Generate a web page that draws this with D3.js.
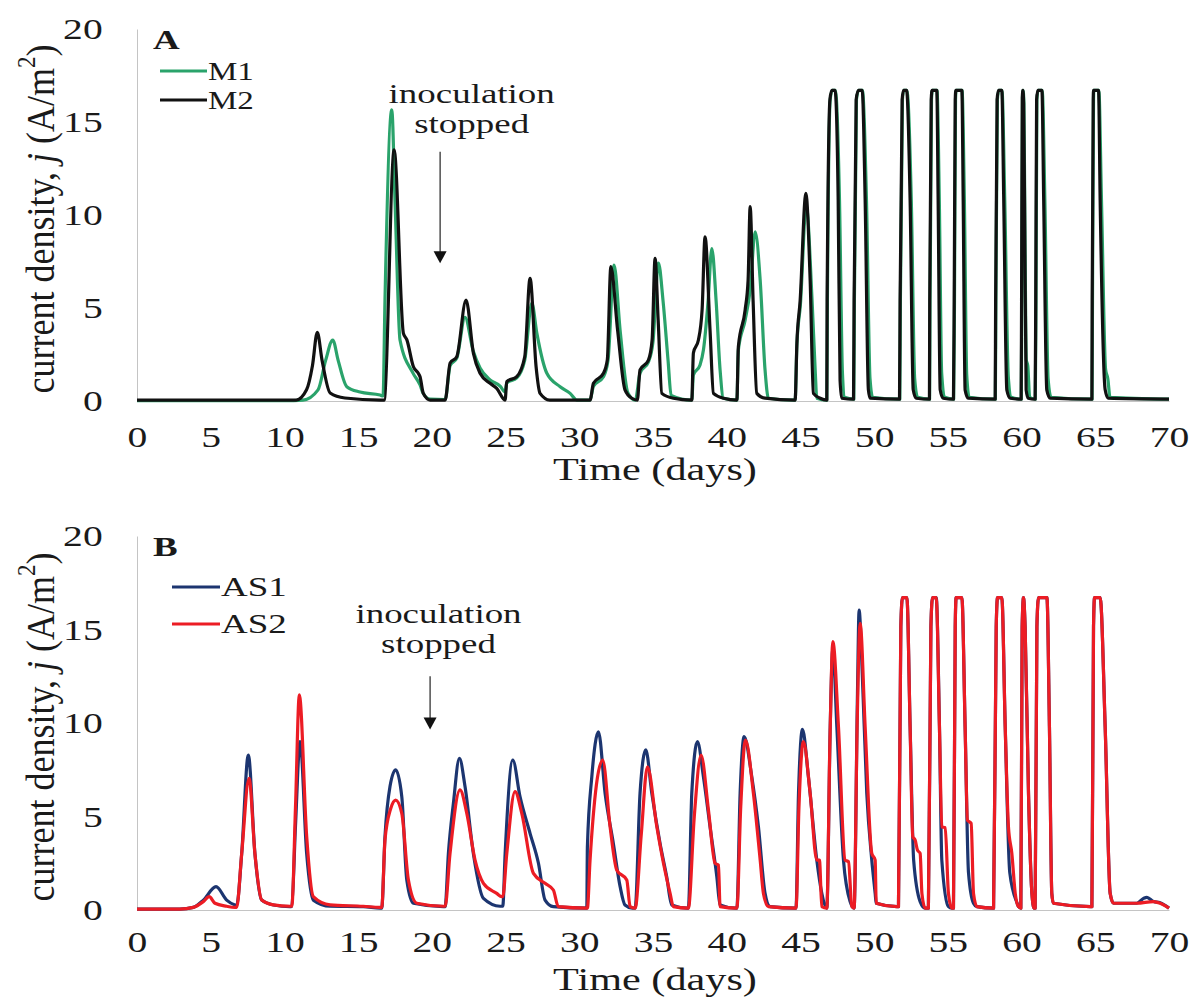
<!DOCTYPE html>
<html>
<head>
<meta charset="utf-8">
<script src="https://d3js.org/d3.v7.min.js"></script>
<style>
  body { margin: 0; background: #fff; }
  svg text { font-family: "Liberation Serif", "Times New Roman", serif; fill: #1a1a1a; }
</style>
</head>
<body>
<svg id="chart" width="1192" height="998"></svg>
<script>
// tick labels
const X_TICKS = [0, 5, 10, 15, 20, 25, 30, 35, 40, 45, 50, 55, 60, 65, 70];
const Y_TICKS = [0, 5, 10, 15, 20];

// panel A, [day, j]
const M1 = [[0,0.02],[10,0.02],[11.26,0.05],[12.28,0.6],[12.8,2.2],[13.28,3.28],[13.64,2.2],[14.23,0.77],[15.13,0.48],[16.49,0.32],[16.69,0.27],
  [16.82,5.4],[17.28,15.65],[17.5,10.8],[17.84,3.28],[18.72,1.5],[19.2,0.86],[19.4,0.43],[19.88,0.1],[20.9,0.08],
  [21.24,1.9],[21.69,2.3],[22.25,4.5],[22.8,2.7],[23.27,1.77],[23.95,1.13],[24.63,0.8],[24.97,0.48],
  [25.08,0.97],[25.76,1.24],[26.3,2.2],[26.78,5.27],[27.12,3.65],[27.8,1.49],[28.7,0.77],[29.38,0.41],[29.83,0.05],[30.73,0.05],
  [30.96,0.8],[31.64,1.3],[31.95,2.2],[32.36,7.3],[32.77,3.8],[33.3,0.43],[33.8,0.05],
  [34.12,1.5],[34.69,2.1],[35.0,3.2],[35.37,7.42],[35.68,5.4],[36.02,2.2],[36.23,0.3],[37.63,0.05],
  [37.74,1.4],[38.19,1.94],[38.42,2.74],[38.74,5.4],[38.99,8.2],[39.28,5.4],[39.55,1.67],[39.78,0.15],[40.69,0.05],
  [40.79,2.74],[41.25,4.35],[41.59,5.97],[41.93,9.1],[42.27,6.5],[42.6,1.67],[42.83,0.15],[44.64,0.05],
  [44.76,3.0],[45.0,5.2],[45.39,10.5],[45.79,5.4],[46.0,1.67],[46.11,0.15],[46.79,0.05],
  [46.83,5.4],[47.02,16.2],[47.15,16.7],[47.37,16.7],[47.65,10.8],[47.85,1.5],[48.0,0.2],[48.62,0.1],
  [48.66,5.4],[48.8,16.2],[48.95,16.7],[49.2,16.7],[49.48,10.8],[49.72,1.2],[49.9,0.2],[51.74,0.1],
  [51.78,5.4],[51.92,16.2],[52.0,16.7],[52.22,16.7],[52.52,10.8],[52.75,1.2],[52.95,0.2],[53.76,0.1],
  [53.79,5.4],[53.89,16.2],[53.95,16.7],[54.26,16.7],[54.42,10.8],[54.58,1.5],[54.8,0.2],[55.39,0.1],
  [55.45,5.4],[55.52,16.2],[55.56,16.7],[55.96,16.7],[56.12,10.8],[56.28,1.4],[56.45,0.2],[58.22,0.1],
  [58.26,5.4],[58.36,16.2],[58.45,16.7],[58.67,16.7],[58.86,10.8],[59.1,1.3],[59.3,0.2],[59.98,0.1],
  [60.02,5.4],[60.06,16.3],[60.1,16.7],[60.16,16.0],[60.24,8.0],[60.32,2.2],[60.42,1.9],[60.55,0.2],[60.93,0.1],
  [60.98,5.4],[61.04,16.2],[61.12,16.7],[61.4,16.7],[61.58,10.8],[61.8,1.2],[62.0,0.2],[64.78,0.1],
  [64.81,5.4],[64.88,16.2],[64.9,16.7],[65.24,16.7],[65.42,10.8],[65.7,1.7],[65.85,1.2],[66.0,0.2],[70,0.1]];

const M2 = [[0,0.05],[5,0.05],[10.8,0.05],[11.5,0.6],[11.9,1.9],[12.23,3.69],[12.55,2.2],[13.1,0.43],[14.1,0.16],[16.5,0.05],
  [16.76,0.05],[17.44,13.5],[18.07,3.64],[18.3,3.3],[18.75,1.84],[19.08,1.49],[19.2,1.3],[19.42,0.41],[19.88,0.05],[20.9,0.05],
  [21.24,2.04],[21.69,2.38],[22.32,5.43],[22.82,2.56],[23.27,1.49],[23.95,0.95],[24.4,0.68],[24.97,0.05],
  [25.08,1.04],[25.76,1.31],[26.3,2.38],[26.66,6.6],[27.07,1.84],[27.34,0.41],[28.0,0.05],
  [30.73,0.05],[30.96,0.95],[31.64,1.49],[31.9,2.2],[32.14,7.22],[32.6,3.8],[33.1,0.6],[33.56,0.15],[33.94,0.05],
  [34.12,1.67],[34.69,2.2],[34.94,3.28],[35.14,7.67],[35.35,4.35],[35.6,0.41],[36.38,0.15],[37.63,0.05],
  [37.74,2.58],[38.08,3.28],[38.33,4.9],[38.53,8.83],[38.87,3.8],[39.1,0.41],[39.78,0.15],[40.69,0.05],
  [40.79,2.92],[41.25,4.9],[41.45,6.5],[41.59,10.45],[41.79,5.4],[42.04,0.41],[42.6,0.15],[44.64,0.05],
  [44.76,3.1],[44.98,5.4],[45.37,11.17],[45.66,6.5],[45.88,0.41],[46.34,0.15],[46.79,0.05],
  [46.81,5.4],[47.0,16.2],[47.13,16.7],[47.35,16.7],[47.56,10.8],[47.69,1.1],[47.8,0.15],[48.6,0.1],
  [48.64,5.4],[48.78,16.2],[48.93,16.7],[49.19,16.7],[49.39,10.8],[49.61,0.6],[49.73,0.15],[51.72,0.1],
  [51.76,5.4],[51.9,16.2],[51.99,16.7],[52.2,16.7],[52.44,10.8],[52.65,0.6],[52.85,0.15],[53.75,0.1],
  [53.77,5.4],[53.87,16.2],[53.93,16.7],[54.25,16.7],[54.34,10.8],[54.48,0.6],[54.68,0.15],[55.38,0.1],
  [55.43,5.4],[55.5,16.2],[55.54,16.7],[55.95,16.7],[56.04,10.8],[56.17,0.6],[56.38,0.15],[58.21,0.1],
  [58.24,5.4],[58.34,16.2],[58.43,16.7],[58.66,16.7],[58.79,10.8],[59.0,0.6],[59.23,0.15],[59.97,0.1],
  [60.0,5.4],[60.05,16.3],[60.09,16.7],[60.14,16.0],[60.2,10.8],[60.31,0.6],[60.45,0.15],[60.92,0.1],
  [60.96,5.4],[61.02,16.2],[61.1,16.7],[61.38,16.7],[61.5,10.8],[61.71,0.6],[61.94,0.15],[64.77,0.1],
  [64.79,5.4],[64.86,16.2],[64.88,16.7],[65.22,16.7],[65.33,10.8],[65.67,0.6],[65.87,0.15],[70,0.1]];

// panel B, [day, j]
const AS1 = [[0,0.05],[2.9,0.05],[3.82,0.14],[4.5,0.53],[5.36,1.25],[6.08,0.53],[6.65,0.27],
  [6.76,0.25],[7.1,3.0],[7.55,8.29],[8.0,3.0],[8.46,0.53],[9.25,0.27],[10.38,0.18],
  [10.5,0.2],[10.75,4.5],[11.06,9.0],[11.51,3.0],[11.96,0.53],[13.1,0.2],[15.35,0.18],[16.49,0.1],
  [16.6,0.1],[16.82,3.92],[17.16,6.6],[17.55,7.49],[17.96,6.06],[18.3,1.6],[18.75,0.36],[20.78,0.18],
  [20.9,0.18],[21.12,3.0],[21.46,5.7],[21.87,8.11],[22.25,6.6],[22.82,3.0],[23.5,0.62],[24.63,0.2],
  [24.81,0.2],[24.97,3.0],[25.49,8.02],[25.98,6.06],[26.66,4.1],[27.23,2.5],[27.68,0.53],[28.24,0.18],[30.51,0.1],
  [30.55,3.39],[30.85,7.13],[31.3,9.53],[31.75,6.24],[32.31,3.56],[32.77,1.25],[33.1,0.27],[33.6,0.1],
  [33.79,0.1],[34.12,6.24],[34.51,8.56],[34.92,6.24],[35.48,3.56],[35.93,1.78],[36.27,0.27],[37.3,0.1],
  [37.4,0.1],[37.63,6.24],[38.01,9.0],[38.42,7.13],[38.87,4.45],[39.33,1.78],[39.55,0.27],[40.57,0.1],
  [40.69,0.1],[40.91,6.24],[41.18,9.27],[41.7,7.13],[42.15,4.45],[42.6,0.89],[42.94,0.18],[44.64,0.1],
  [44.7,0.1],[44.87,6.24],[45.14,9.66],[45.54,7.13],[46.11,2.67],[46.45,0.89],[46.79,0.1],
  [47.02,9.8],[47.2,14.0],[47.47,9.8],[47.92,2.67],[48.37,0.45],[48.64,0.1],
  [48.87,11.6],[48.98,16.04],[49.16,13.37],[49.5,6.24],[49.84,2.67],[50.07,0.89],[50.14,0.36],[51.54,0.18],
  [51.65,0.18],[51.81,15.15],[51.92,16.7],[52.22,16.7],[52.44,9.8],[52.68,2.67],[53.12,0.45],[53.46,0.1],
  [53.68,0.1],[53.85,15.15],[53.96,16.7],[54.21,16.7],[54.43,9.8],[54.59,2.67],[55.04,0.18],[55.27,0.1],
  [55.38,0.1],[55.5,15.15],[55.56,16.7],[55.95,16.7],[56.17,9.8],[56.4,2.0],[56.74,0.36],[56.97,0.18],[58.09,0.1],
  [58.1,0.1],[58.28,15.15],[58.37,16.7],[58.66,16.7],[58.89,9.8],[59.2,2.0],[59.7,0.36],[59.79,0.18],
  [59.95,0.1],[60.04,15.15],[60.13,16.7],[60.24,15.15],[60.47,6.24],[60.7,0.89],[60.85,0.1],
  [60.92,0.1],[61.04,15.15],[61.15,16.7],[61.72,16.7],[61.89,9.8],[62.05,0.89],[62.16,0.36],[64.65,0.18],
  [64.77,0.18],[64.88,15.15],[64.95,16.7],[65.33,16.7],[65.67,9.8],[66.01,0.89],[66.24,0.36],[67.82,0.36],
  [68.27,0.62],[68.5,0.68],[68.95,0.45],[69.4,0.39],[70,0.1]];

const AS2 = [[0,0.05],[2.9,0.05],[3.82,0.14],[4.5,0.45],[4.9,0.71],[5.29,0.36],[6.08,0.2],[6.65,0.14],
  [6.76,0.14],[7.1,3.0],[7.6,7.04],[8.0,3.0],[8.46,0.53],[9.25,0.27],[10.38,0.2],
  [10.5,0.2],[10.75,5.5],[11.01,11.5],[11.51,3.92],[11.96,0.71],[13.1,0.27],[15.35,0.2],[16.49,0.14],
  [16.6,0.14],[16.82,3.74],[17.2,5.4],[17.55,5.88],[17.96,5.17],[18.41,1.6],[18.98,0.36],[20.78,0.2],
  [20.9,0.2],[21.23,3.0],[21.91,6.42],[22.37,5.17],[22.93,2.67],[23.5,1.43],[24.4,0.89],[24.74,0.71],
  [24.81,0.71],[25.08,3.0],[25.64,6.33],[26.1,5.17],[26.89,1.96],[27.68,1.43],[28.24,1.07],[28.58,0.18],[30.55,0.1],
  [30.73,2.67],[31.59,8.02],[32.09,4.45],[32.54,2.14],[33.22,1.6],[33.45,0.18],[33.79,0.1],
  [34.2,4.0],[34.62,7.66],[35.26,4.45],[35.71,2.5],[36.16,0.89],[36.38,0.18],[37.4,0.1],
  [37.8,5.0],[38.26,8.29],[38.76,5.35],[39.21,2.5],[39.44,2.4],[39.55,0.18],[40.69,0.1],
  [40.95,5.5],[41.27,9.09],[41.81,6.24],[42.27,2.67],[42.49,0.89],[42.83,0.18],[44.7,0.1],
  [44.9,5.5],[45.2,9.0],[45.66,6.24],[46.11,2.67],[46.29,2.67],[46.45,0.18],[46.79,0.1],
  [47.0,9.0],[47.2,14.35],[47.58,9.8],[48.03,2.67],[48.26,2.58],[48.49,0.18],[48.64,0.1],
  [48.85,10.0],[49.05,15.33],[49.39,9.8],[49.84,3.03],[50.07,2.67],[50.14,0.36],[51.54,0.18],
  [51.65,0.18],[51.81,15.15],[51.92,16.7],[52.22,16.7],[52.44,9.8],[52.62,3.92],[52.78,3.74],[52.94,3.2],[53.12,3.03],[53.24,0.89],[53.46,0.1],
  [53.68,0.1],[53.85,15.15],[53.96,16.7],[54.21,16.7],[54.43,9.8],[54.59,4.45],[54.82,4.4],[55.04,0.89],[55.27,0.1],
  [55.38,0.1],[55.5,15.15],[55.56,16.7],[55.95,16.7],[56.17,9.8],[56.33,4.8],[56.58,4.63],[56.74,0.89],[56.97,0.18],[58.09,0.1],
  [58.1,0.1],[58.28,15.15],[58.37,16.7],[58.66,16.7],[58.89,9.8],[59.11,4.45],[59.34,3.03],[59.57,0.89],[59.79,0.18],
  [59.95,0.1],[60.04,15.15],[60.13,16.7],[60.24,15.15],[60.47,6.24],[60.7,0.89],[60.85,0.1],
  [60.92,0.1],[61.04,15.15],[61.15,16.7],[61.72,16.7],[61.89,9.8],[62.05,0.89],[62.16,0.36],[64.65,0.18],
  [64.77,0.18],[64.88,15.15],[64.95,16.7],[65.33,16.7],[65.67,9.8],[66.01,0.89],[66.24,0.36],[67.82,0.36],
  [68.95,0.45],[69.4,0.36],[70,0.1]];

const SX = 1.32;          // the figure is stretched sideways
const AXIS_GREY = "#c4c4c4";

const PANEL_A = {
  LETTER: "A", TOP: 29, ZERO: 401, TICK_PAD: 25, TITLE_Y: 480,
  SERIES: [{ name: "M1", data: M1, color: "#2aa36b" }, { name: "M2", data: M2, color: "#111111" }],
  LEGEND: { x0: 160, x1: 207, y: [71, 100], size: 25 },
  NOTE: { x: 22.7, lines: [16.0, 14.4], arrowX: 20.56, arrowFrom: 13.4, arrowTo: 7.4 }
};
const PANEL_B = {
  LETTER: "B", TOP: 536, ZERO: 910, TICK_PAD: 21, TITLE_Y: 990,
  SERIES: [{ name: "AS1", data: AS1, color: "#1c3570" }, { name: "AS2", data: AS2, color: "#ec1c24" }],
  LEGEND: { x0: 172, x1: 220, y: [587, 624], size: 28 },
  NOTE: { x: 20.45, lines: [15.35, 13.75], arrowX: 19.88, arrowFrom: 12.5, arrowTo: 9.65 }
};

const X_SCALE = d3.scaleLinear().domain([0, 70]).range([137, 1169]);

function stretched(x, y) {
  return `translate(${x},${y}) scale(${SX},1)`;
}

function createAxes(chart, yScale, params) {
  const Y_AXIS = d3.axisLeft(yScale).tickValues(Y_TICKS).tickSize(0).tickPadding(26);
  const yG = chart.append("g")
    .attr("transform", `translate(${X_SCALE(0)},0)`)
    .call(Y_AXIS);
  yG.select(".domain").attr("stroke", AXIS_GREY);
  yG.selectAll("text")
    .attr("font-size", 30)
    .attr("fill", "#1a1a1a")
    .attr("transform", `scale(${SX},1)`);

  const X_AXIS = d3.axisBottom(X_SCALE).tickValues(X_TICKS).tickSize(0).tickPadding(params.TICK_PAD);
  const xG = chart.append("g")
    .attr("transform", `translate(0,${params.ZERO})`)
    .call(X_AXIS);
  xG.select(".domain").attr("stroke", AXIS_GREY);
  xG.selectAll("text")
    .attr("font-size", 30)
    .attr("fill", "#1a1a1a")
    .attr("transform", `scale(${SX},1)`);
  [yG, xG].forEach(g => g.attr("font-family", null).attr("font-size", null));

  chart.append("text")
    .attr("transform", stretched(655, params.TITLE_Y))
    .attr("text-anchor", "middle")
    .attr("font-size", 32)
    .text("Time (days)");

  const title = chart.append("text")
    .attr("transform", `translate(40,${(params.TOP + params.ZERO) / 2 + 4}) scale(1.1,1) rotate(-90)`)
    .attr("text-anchor", "middle")
    .attr("dominant-baseline", "central")
    .attr("font-size", 36);
  title.append("tspan").text("current density, ");
  title.append("tspan").attr("font-style", "italic").text("j");
  title.append("tspan").text(" (A/m");
  title.append("tspan").attr("font-size", 23).attr("baseline-shift", "super").text("2");
  title.append("tspan").text(")");

  chart.append("text")
    .attr("transform", stretched(153, params.TOP + 20))
    .attr("font-size", 28)
    .attr("font-weight", "bold")
    .text(params.LETTER);
}

function createSeries(chart, yScale, params) {
  const LINE = d3.line()
    .x(d => X_SCALE(d[0]))
    .y(d => yScale(d[1]))
    .curve(d3.curveMonotoneX);
  chart.selectAll(".series")
    .data(params.SERIES)
    .enter()
    .append("path")
    .classed("series", true)
    .attr("d", s => LINE(s.data))
    .attr("fill", "none")
    .attr("stroke", s => s.color)
    .attr("stroke-width", 3.2)
    .attr("stroke-linejoin", "round");
}

function createLegend(chart, params) {
  const L = params.LEGEND;
  const ITEMS = chart.selectAll(".legend")
    .data(params.SERIES)
    .enter()
    .append("g")
    .classed("legend", true);
  ITEMS.append("line")
    .attr("x1", L.x0).attr("x2", L.x1)
    .attr("y1", (s, i) => L.y[i]).attr("y2", (s, i) => L.y[i])
    .attr("stroke", s => s.color)
    .attr("stroke-width", 3);
  ITEMS.append("text")
    .attr("transform", (s, i) => stretched(L.x1 + 1, L.y[i]))
    .attr("dominant-baseline", "central")
    .attr("font-size", L.size)
    .text(s => s.name);
}

function createNote(chart, yScale, params) {
  const N = params.NOTE;
  chart.selectAll(".note")
    .data(["inoculation", "stopped"])
    .enter()
    .append("text")
    .classed("note", true)
    .attr("transform", (t, i) => stretched(X_SCALE(N.x), yScale(N.lines[i])))
    .attr("text-anchor", "middle")
    .attr("font-size", 28)
    .text(t => t);

  const ax = X_SCALE(N.arrowX);
  const tip = yScale(N.arrowTo);
  chart.append("line")
    .attr("x1", ax).attr("x2", ax)
    .attr("y1", yScale(N.arrowFrom)).attr("y2", tip - 10)
    .attr("stroke", "#222")
    .attr("stroke-width", 1.2);
  chart.append("path")
    .attr("d", `M${ax - 6.5},${tip - 12}L${ax + 6.5},${tip - 12}L${ax},${tip}Z`)
    .attr("fill", "#111");
}

function renderPanel(svg, params) {
  const yScale = d3.scaleLinear().domain([0, 20]).range([params.ZERO, params.TOP]);
  const chart = svg.append("g");
  createAxes(chart, yScale, params);
  createSeries(chart, yScale, params);
  createLegend(chart, params);
  createNote(chart, yScale, params);
}

const SVG = d3.select("#chart");
renderPanel(SVG, PANEL_A);
renderPanel(SVG, PANEL_B);
</script>
</body>
</html>
